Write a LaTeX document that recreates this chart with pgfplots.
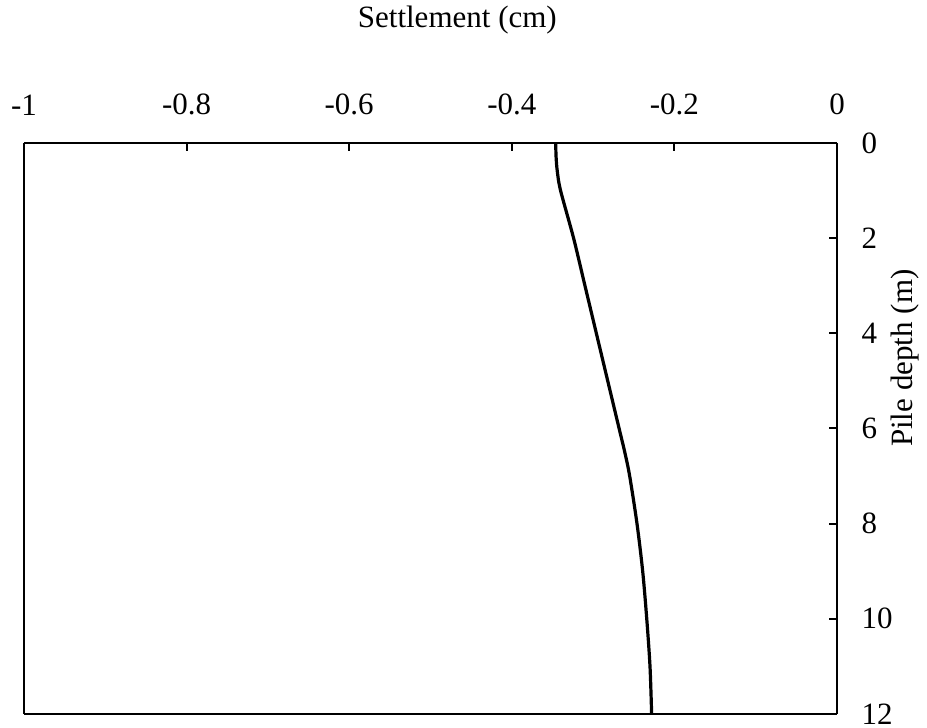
\documentclass[border=0pt]{standalone}
\usepackage{fontspec}
\setmainfont{Liberation Serif}
\usepackage{pgfplots}
\pgfplotsset{compat=1.18}

\begin{document}
\begin{tikzpicture}
\fontsize{15.5pt}{18pt}\selectfont
\begin{axis}[
    scale only axis,
    width=406.5pt, height=285.5pt,
    xmin=-1, xmax=0, ymin=0, ymax=12,
    y dir=reverse,
    axis x line*=top, axis y line*=right,
    axis line style={line width=1pt},
    every outer x axis line/.append style={-}, every outer y axis line/.append style={-},
    xtick={-1,-0.8,-0.6,-0.4,-0.2,0},
    ytick={0,2,...,12},
    xticklabels={-1,-0.8,-0.6,-0.4,-0.2,0},
    tick align=inside, major tick length=4pt,
    tick style={line width=1pt, black},
    minor tick num=0,
    xticklabel pos=top, yticklabel pos=right,
    xticklabel style={yshift=8.5pt},
    yticklabel style={xshift=7pt},
    /pgf/number format/assume math mode=true,
    clip=false,
]
\draw[line width=1pt] (axis cs:-1,12) -- (axis cs:0,12);
\draw[line width=1pt] (axis cs:-1,0) -- (axis cs:-1,12);
\addplot[black, line width=1.6pt, smooth, tension=0.5, no marks] coordinates {
    (-0.346,0) (-0.3455,0.3) (-0.344,0.6) (-0.340,1) (-0.324,2) (-0.310,3)
    (-0.296,4) (-0.282,5) (-0.268,6) (-0.261,6.5) (-0.255,7) (-0.246,8)
    (-0.239,9) (-0.234,10) (-0.230,11) (-0.228,12)
};
\node at (axis description cs:0.533,1.215) {Settlement (cm)};
\node[rotate=90] at (axis description cs:1.084,0.623) {Pile depth (m)};
\coordinate (bl) at (axis description cs:-0.0295,-0.0245);
\coordinate (tr) at (axis description cs:1.1107,1.2504);
\end{axis}
\pgfresetboundingbox
\path (bl) rectangle (tr);
\end{tikzpicture}
\end{document}
